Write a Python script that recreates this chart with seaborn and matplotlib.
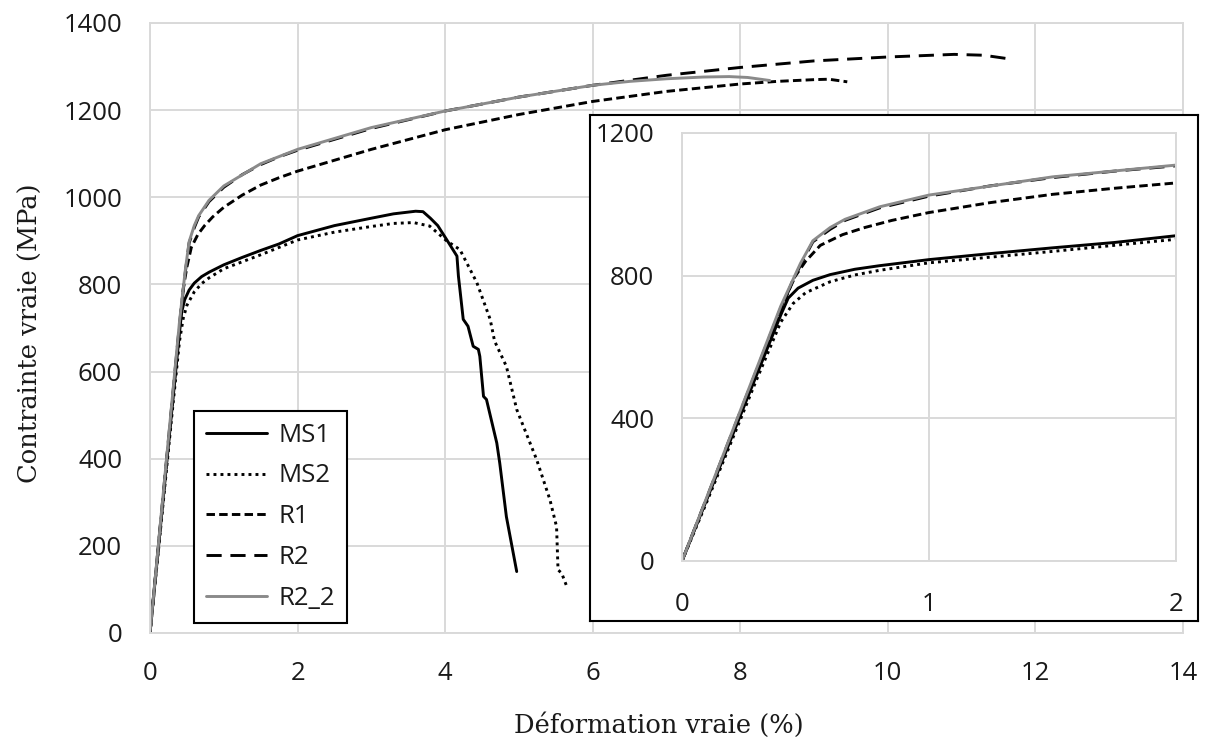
import matplotlib
matplotlib.use("Agg")
import matplotlib.pyplot as plt
import seaborn as sns

# ---- data (strain %, stress MPa) ----
ms1_x = [0, 0.1, 0.2, 0.3, 0.4, 0.43, 0.47, 0.53, 0.6, 0.7, 0.8, 1.0, 1.25, 1.5, 1.75,
         2.0, 2.5, 3.0, 3.3, 3.6, 3.7, 3.8, 3.9, 4.02, 4.16, 4.18, 4.2, 4.245, 4.31, 4.38,
         4.45, 4.47, 4.52, 4.56, 4.7, 4.74, 4.83, 4.97]
ms1_y = [0, 172, 345, 518, 690, 737, 765, 787, 803, 818, 828, 845, 862, 878, 893,
         912, 935, 952, 962, 968, 967, 952, 935, 903, 865, 819, 789, 720, 704, 658,
         651, 635, 543, 536, 436, 390, 267, 141]

ms2_x = [0, 0.1, 0.2, 0.3, 0.4, 0.45, 0.5, 0.6, 0.7, 0.8, 1.0, 1.5, 2.0, 2.5, 3.0, 3.3,
         3.57, 3.79, 4.02, 4.2, 4.43, 4.61, 4.67, 4.83, 4.97, 5.24, 5.42, 5.51, 5.53,
         5.58, 5.65]
ms2_y = [0, 165, 335, 505, 670, 722, 752, 783, 802, 815, 836, 868, 902, 920, 933, 940,
         942, 934, 900, 880, 804, 720, 670, 612, 513, 398, 306, 244, 145,
         137, 106]

r1_x = [0, 0.1, 0.2, 0.3, 0.4, 0.45, 0.5, 0.56, 0.65, 0.74, 0.85, 1.0, 1.25, 1.5, 1.75,
        2.0, 3.0, 4.0, 5.0, 6.0, 7.0, 8.0, 8.5, 9.0, 9.2, 9.45]
r1_y = [0, 175, 350, 525, 700, 790, 840, 885, 915, 935, 955, 977, 1005, 1028, 1045,
        1060, 1110, 1155, 1190, 1220, 1243, 1260, 1266, 1270, 1271, 1265]

r2_x = [0, 0.1, 0.2, 0.3, 0.4, 0.48, 0.53, 0.6, 0.66, 0.8, 1.0, 1.25, 1.5, 1.75, 2.0,
        3.0, 4.0, 5.0, 6.0, 7.0, 8.0, 9.0, 10.0, 10.9, 11.3, 11.63]
r2_y = [0, 177, 355, 532, 710, 830, 895, 930, 955, 990, 1023, 1052, 1075, 1093, 1108,
        1158, 1198, 1230, 1257, 1280, 1298, 1313, 1322, 1328, 1326, 1318]

r22_x = [0, 0.1, 0.2, 0.3, 0.4, 0.48, 0.53, 0.6, 0.66, 0.8, 1.0, 1.5, 2.0, 3.0, 4.0,
         5.0, 6.0, 6.5, 7.0, 7.5, 7.85, 8.1, 8.4]
r22_y = [0, 178, 357, 536, 715, 835, 898, 935, 958, 993, 1026, 1077, 1110, 1160, 1198,
         1230, 1257, 1266, 1272, 1276, 1277, 1275, 1268]

series = [
    ("MS1", ms1_x, ms1_y, "black", "-"),
    ("MS2", ms2_x, ms2_y, "black", (0, (1, 1.4))),
    ("R1", r1_x, r1_y, "black", (0, (2.9, 1.45))),
    ("R2", r2_x, r2_y, "black", (0, (5.2, 3.0))),
    ("R2_2", r22_x, r22_y, "#8a8a8a", "-"),
]

sns.set_style("whitegrid")
plt.rcParams["font.family"] = ["Open Sans", "DejaVu Sans"]

GRID = "#d9d9d9"
W, H = 1207, 740
fig = plt.figure(figsize=(W / 100, H / 100), dpi=100)


def fig_rect(x0, y0, x1, y1):
    # pixel box -> figure fraction
    return [x0 / W, 1 - y1 / H, (x1 - x0) / W, (y1 - y0) / H]


ax = fig.add_axes(fig_rect(150, 23, 1183, 633))
box = fig.add_axes(fig_rect(590, 115, 1198, 621), zorder=2)
ins = fig.add_axes(fig_rect(682, 133, 1176, 561), zorder=3)


def style_axes(a, pad_x, pad_y):
    a.grid(True, color=GRID, linewidth=1.4)
    for s in a.spines.values():
        s.set_color(GRID)
        s.set_linewidth(1.4)
    a.tick_params(length=0, labelsize=18.5, colors="#1a1a1a")
    a.tick_params(axis="x", pad=pad_x)
    a.tick_params(axis="y", pad=pad_y)
    a.set_facecolor("white")


for name, xs, ys, c, ls in series:
    for a in (ax, ins):
        sns.lineplot(x=xs, y=ys, ax=a, color=c, linestyle=ls, linewidth=2.1,
                     sort=False, estimator=None, label=name if a is ax else None)

# main axes
ax.set_xlim(0, 14)
ax.set_ylim(0, 1400)
ax.set_xticks(range(0, 15, 2))
ax.set_yticks(range(0, 1401, 200))
style_axes(ax, 20, 20)
ax.set_xlabel("Déformation vraie (%)", family="DejaVu Serif", fontsize=18.5, color="#1a1a1a")
ax.set_ylabel("Contrainte vraie (MPa)", family="DejaVu Serif", fontsize=18.5, color="#1a1a1a")
ax.xaxis.label.set_va("center")
ax.yaxis.label.set_va("center")
ax.xaxis.set_label_coords(0.4927, -0.151)
ax.yaxis.set_label_coords(-0.116, 0.491)

leg = ax.legend(loc="upper left", bbox_to_anchor=(194 / W, 1 - 411 / H),
                bbox_transform=fig.transFigure, borderaxespad=0, fontsize=18.5,
                handlelength=2.4, handletextpad=0.45, labelspacing=0.62,
                borderpad=0.45, fancybox=False, framealpha=1, edgecolor="black")
leg.get_frame().set_linewidth(1.5)
leg.set_zorder(5)
for t in leg.get_texts():
    t.set_color("#1a1a1a")

# inset frame
box.set_xticks([])
box.set_yticks([])
box.grid(False)
box.set_facecolor("white")
for s in box.spines.values():
    s.set_color("black")
    s.set_linewidth(1.5)

# inset zoom on elastic region
ins.set_xlim(0, 2)
ins.set_ylim(0, 1200)
ins.set_xticks([0, 1, 2])
ins.set_yticks([0, 400, 800, 1200])
style_axes(ins, 22, 20)

fig.savefig("out.png", dpi=100)
